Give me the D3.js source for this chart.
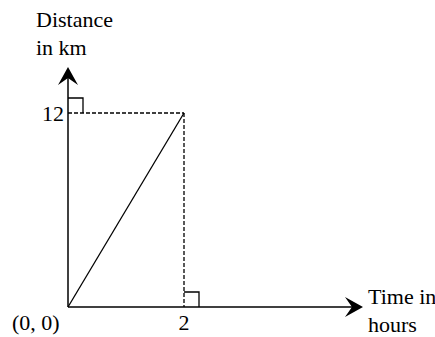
<!DOCTYPE html>
<html>
<head>
<meta charset="utf-8">
<script src="https://cdn.jsdelivr.net/npm/d3@7"></script>
<style>
  body { margin: 0; background: #fff; }
  text { font-family: "Liberation Serif", "Times New Roman", serif; font-size: 22px; fill: #000; }
</style>
</head>
<body>
<svg id="chart"></svg>
<script>
// data
var times = [0, 2];          // hours
var distances = [0, 12];     // km
var xTickLabels = ["2"];
var yTickLabels = ["12"];
var originLabel = "(0, 0)";
var xTitle = ["Time in", "hours"];
var yTitle = ["Distance", "in km"];

var width = 435, height = 337;

var svg = d3.select('#chart')
    .attr('width', width)
    .attr('height', height);

// scales
var xScale = d3.scaleLinear().domain([0, 2]).range([68, 184]);
var yScale = d3.scaleLinear().domain([0, 12]).range([307, 113]);

var x0 = xScale(0), y0 = yScale(0);
var xEnd = 363, yEnd = 67;
var sq = 15;

// axes lines
svg.append('line')
    .attr('x1', x0).attr('y1', y0)
    .attr('x2', xEnd - 6).attr('y2', y0)
    .attr('stroke', '#000').attr('stroke-width', 1.5);

svg.append('line')
    .attr('x1', x0).attr('y1', y0)
    .attr('x2', x0).attr('y2', yEnd + 6)
    .attr('stroke', '#000').attr('stroke-width', 1.5);

// arrow heads
svg.append('path')
    .attr('d', 'M' + xEnd + ',' + y0 + ' L' + (xEnd - 18) + ',' + (y0 - 10) +
        ' L' + (xEnd - 11) + ',' + y0 + ' L' + (xEnd - 18) + ',' + (y0 + 10) + 'Z')
    .attr('fill', '#000');

svg.append('path')
    .attr('d', 'M' + x0 + ',' + yEnd + ' L' + (x0 - 10) + ',' + (yEnd + 18) +
        ' L' + x0 + ',' + (yEnd + 11) + ' L' + (x0 + 10) + ',' + (yEnd + 18) + 'Z')
    .attr('fill', '#000');

// dashed guides
var px = xScale(times[1]), py = yScale(distances[1]);

svg.append('line')
    .attr('x1', x0).attr('y1', py)
    .attr('x2', px).attr('y2', py)
    .attr('stroke', '#000').attr('stroke-width', 1.3)
    .attr('stroke-dasharray', '4,2');

svg.append('line')
    .attr('x1', px).attr('y1', py)
    .attr('x2', px).attr('y2', y0)
    .attr('stroke', '#000').attr('stroke-width', 1.3)
    .attr('stroke-dasharray', '4,2');

// right-angle squares
svg.append('path')
    .attr('d', 'M' + x0 + ',' + (py - sq) + ' H' + (x0 + sq) + ' V' + py)
    .attr('fill', 'none').attr('stroke', '#000').attr('stroke-width', 1.3);

svg.append('path')
    .attr('d', 'M' + px + ',' + (y0 - sq) + ' H' + (px + sq) + ' V' + y0)
    .attr('fill', 'none').attr('stroke', '#000').attr('stroke-width', 1.3);

// the line
var line = d3.line()
    .x(function(d, i) { return xScale(times[i]); })
    .y(function(d) { return yScale(d); });

svg.append('path')
    .datum(distances)
    .attr('d', line)
    .attr('fill', 'none')
    .attr('stroke', '#000')
    .attr('stroke-width', 1.3);

// tick labels
svg.selectAll('.xtick')
    .data(xTickLabels)
    .enter().append('text')
    .attr('class', 'xtick')
    .attr('x', function(d) { return xScale(+d); })
    .attr('y', 330)
    .attr('text-anchor', 'middle')
    .text(function(d) { return d; });

svg.selectAll('.ytick')
    .data(yTickLabels)
    .enter().append('text')
    .attr('class', 'ytick')
    .attr('x', x0 - 4)
    .attr('y', function(d) { return yScale(+d) + 8; })
    .attr('text-anchor', 'end')
    .text(function(d) { return d; });

svg.append('text')
    .attr('x', 12).attr('y', 330)
    .text(originLabel);

// axis titles
svg.selectAll('.ytitle')
    .data(yTitle)
    .enter().append('text')
    .attr('class', 'ytitle')
    .attr('x', 36)
    .attr('y', function(d, i) { return 27 + i * 28; })
    .text(function(d) { return d; });

svg.selectAll('.xtitle')
    .data(xTitle)
    .enter().append('text')
    .attr('class', 'xtitle')
    .attr('x', 368)
    .attr('y', function(d, i) { return 304 + i * 28; })
    .text(function(d) { return d; });
</script>
</body>
</html>
